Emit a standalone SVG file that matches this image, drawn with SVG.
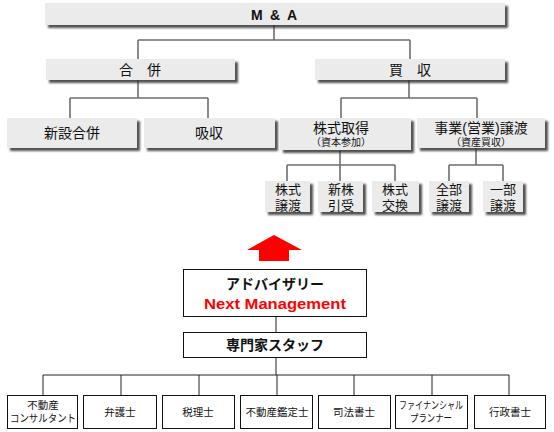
<svg xmlns="http://www.w3.org/2000/svg" width="554" height="432" viewBox="0 0 554 432">
<defs>
<filter id="sh" x="-10%" y="-20%" width="130%" height="160%">
<feDropShadow dx="3" dy="3" stdDeviation="1.3" flood-color="#333" flood-opacity="0.85"/>
</filter>
</defs>
<style>
.g{fill:#ebebeb;filter:url(#sh)}
.w{fill:#fff;stroke:#111;stroke-width:1}
.c{fill:none;stroke:#6e6e6e;stroke-width:1.6}
.k{fill:none;stroke:#222;stroke-width:1}
text{font-family:"Liberation Sans","Noto Sans CJK JP",sans-serif;text-anchor:middle;dominant-baseline:central;fill:#111}
.t1{font-size:14px}
.t2{font-size:14px}
.t3{font-size:13px}
.s{font-size:10px}
.b{font-size:14px;font-weight:bold}
.m{font-size:10.5px}
</style>
<rect width="554" height="432" fill="#fff"/>
<g id="connectors">
<path class="c" d="M274 25V40M138 40H410M138 40V59M410 40V59"/>
<path class="c" d="M138 80V98M70 98H208M70 98V118M208 98V118"/>
<path class="c" d="M409 80V98M341 98H477M341 98V118M477 98V118"/>
<path class="c" d="M340 150V165M287 165H395M287 165V181M340 165V181M395 165V181"/>
<path class="c" d="M476 148V165M449 165H503M449 165V181M503 165V181"/>
<path class="k" d="M276 317V332M276 358V375M43 375H509M43 375V395M121 375V395M199 375V395M277 375V395M354 375V395M432 375V395M509 375V395"/>
</g>
<g id="ma"><rect class="g" x="45" y="3" width="460" height="22"/><text class="b" x="274" y="14.5" textLength="46">M &amp; A</text></g>
<g id="gappei"><rect class="g" x="46" y="59" width="189" height="21"/><text class="t1" x="140" y="70">合　併</text></g>
<g id="baishu"><rect class="g" x="315" y="59" width="190" height="21"/><text class="t1" x="410" y="70">買　収</text></g>
<g id="shinsetsu"><rect class="g" x="7" y="118" width="130" height="30"/><text class="t2" x="72" y="133">新設合併</text></g>
<g id="kyushu"><rect class="g" x="144" y="118" width="131" height="30"/><text class="t2" x="209" y="133">吸収</text></g>
<g id="kabushiki"><rect class="g" x="280" y="118" width="131" height="32"/><text class="t2" x="341" y="128">株式取得</text><text class="s" x="341" y="142">（資本参加）</text></g>
<g id="jigyo"><rect class="g" x="417" y="118" width="128" height="30"/><text class="t2" x="481" y="128">事業(営業)譲渡</text><text class="s" x="481" y="142">（資産買収）</text></g>
<g id="joto"><rect class="g" x="265" y="181" width="45" height="31"/><text class="t3" x="288" y="189">株式</text><text class="t3" x="288" y="205">譲渡</text></g>
<g id="shinkabu"><rect class="g" x="318" y="181" width="45" height="31"/><text class="t3" x="341" y="189">新株</text><text class="t3" x="341" y="205">引受</text></g>
<g id="kokan"><rect class="g" x="372" y="181" width="47" height="31"/><text class="t3" x="395" y="189">株式</text><text class="t3" x="395" y="205">交換</text></g>
<g id="zenbu"><rect class="g" x="429" y="181" width="40" height="31"/><text class="t3" x="449" y="189">全部</text><text class="t3" x="449" y="205">譲渡</text></g>
<g id="ichibu"><rect class="g" x="483" y="181" width="40" height="31"/><text class="t3" x="503" y="189">一部</text><text class="t3" x="503" y="205">譲渡</text></g>
<g id="arrow"><polygon points="274,235 302,250 289,250 289,261 259,261 259,250 247,250" fill="#f00"/></g>
<g id="advisory"><rect class="w" x="183.5" y="269.5" width="183" height="47"/><text class="b" x="275" y="284">アドバイザリー</text><text class="b" x="275" y="303" style="fill:#f00;font-size:15px" textLength="142" lengthAdjust="spacingAndGlyphs">Next Management</text></g>
<g id="staff"><rect class="w" x="183.5" y="332.5" width="183" height="25"/><text class="b" x="275" y="345">専門家スタッフ</text></g>
<g id="fudosan"><rect class="w" x="7.5" y="395.5" width="70" height="33"/><text class="m" x="43" y="404.5">不動産</text><text class="m" x="43" y="418" textLength="66" lengthAdjust="spacingAndGlyphs">コンサルタント</text></g>
<g id="bengoshi"><rect class="w" x="83.5" y="395.5" width="73" height="33"/><text class="m" x="120" y="412">弁護士</text></g>
<g id="zeirishi"><rect class="w" x="162.5" y="395.5" width="72" height="33"/><text class="m" x="198" y="412">税理士</text></g>
<g id="kanteishi"><rect class="w" x="240.5" y="395.5" width="72" height="33"/><text class="m" x="277" y="412">不動産鑑定士</text></g>
<g id="shihou"><rect class="w" x="318.5" y="395.5" width="72" height="33"/><text class="m" x="354" y="412">司法書士</text></g>
<g id="fp"><rect class="w" x="395.5" y="395.5" width="72" height="33"/><text class="m" x="431" y="404.5" textLength="64" lengthAdjust="spacingAndGlyphs">ファイナンシャル</text><text class="m" x="431" y="418" textLength="42" lengthAdjust="spacingAndGlyphs">プランナー</text></g>
<g id="gyosei"><rect class="w" x="474.5" y="395.5" width="71" height="33"/><text class="m" x="510" y="412">行政書士</text></g>
</svg>
